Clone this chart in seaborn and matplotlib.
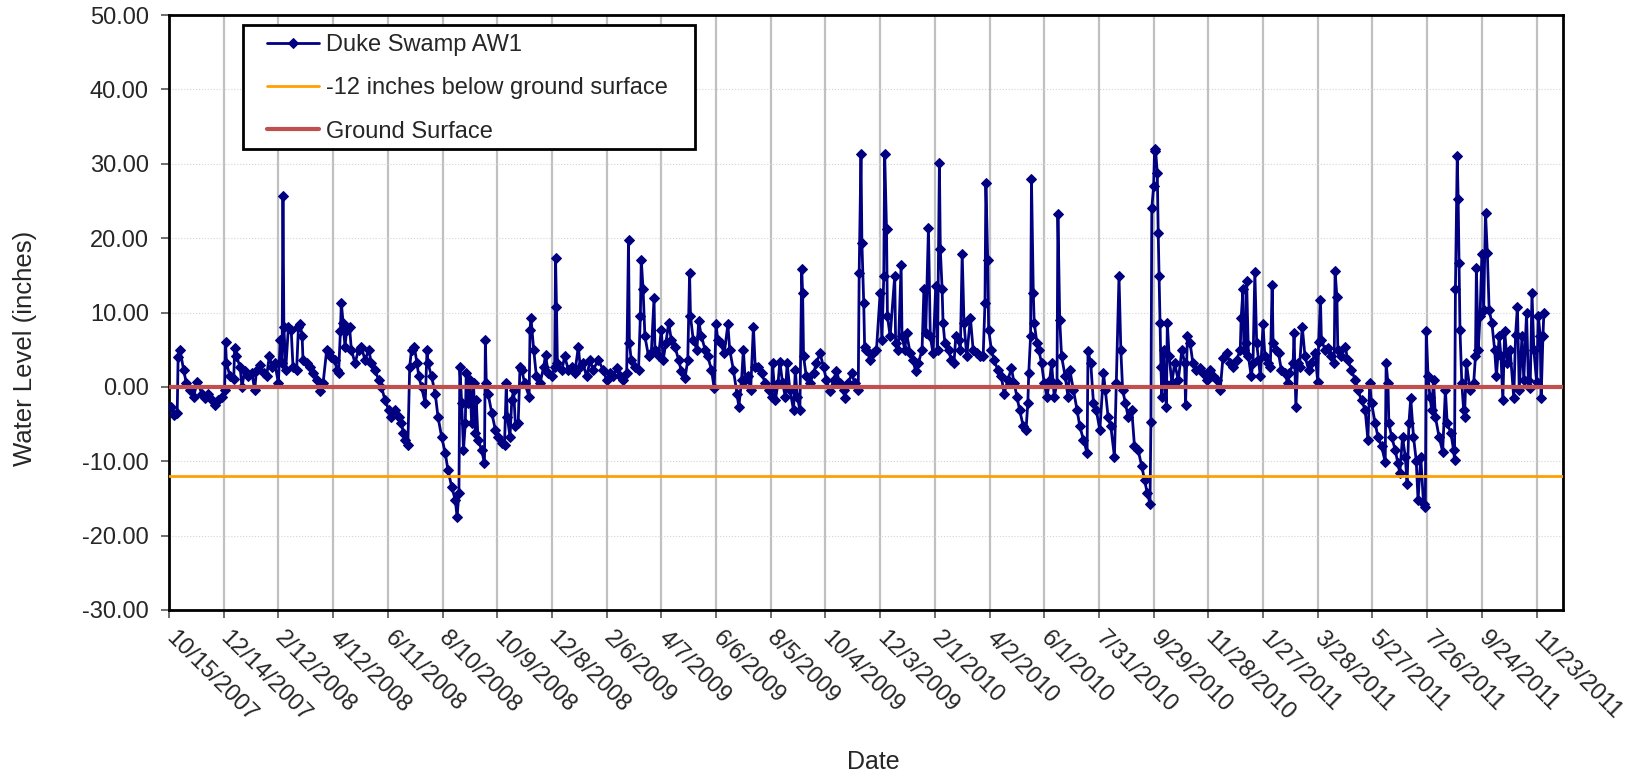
import matplotlib
matplotlib.use('Agg')
import matplotlib.pyplot as plt
from matplotlib.patches import Rectangle
import numpy as np
import pandas as pd
import seaborn as sns

# --- data (days after 10/15/2007, inches) ---
start_date = '2007-10-15'
day_offset = [
    2, 6, 9, 10, 12, 16, 19, 23, 27, 31, 36, 40, 43, 47, 50, 54, 58, 61, 62, 63,
    67, 71, 72, 74, 78, 80, 83, 87, 91, 94, 96, 100, 104, 107, 110, 113, 116, 120, 122, 124,
    125, 126, 128, 131, 134, 136, 140, 142, 144, 146, 147, 151, 155, 158, 162, 166, 169, 173, 175, 178,
    182, 184, 186, 188, 189, 191, 193, 195, 198, 200, 204, 208, 211, 215, 219, 222, 226, 230, 233, 237,
    241, 244, 248, 252, 255, 257, 259, 262, 264, 266, 269, 272, 274, 277, 281, 283, 284, 288, 292, 295,
    299, 303, 306, 310, 314, 316, 318, 319, 321, 323, 325, 326, 328, 330, 332, 334, 336, 337, 339, 343,
    346, 347, 348, 350, 354, 358, 361, 365, 368, 370, 371, 374, 376, 378, 380, 383, 385, 387, 390, 395,
    396, 397, 400, 403, 407, 411, 413, 416, 420, 423, 424, 425, 426, 431, 434, 438, 442, 445, 449, 451,
    454, 458, 462, 465, 471, 476, 480, 484, 487, 491, 495, 498, 502, 504, 505, 507, 511, 515, 517, 518,
    520, 522, 526, 529, 532, 533, 537, 540, 542, 545, 548, 551, 555, 559, 562, 566, 569, 571, 572, 575,
    579, 581, 584, 588, 591, 595, 598, 600, 602, 605, 609, 613, 615, 619, 623, 625, 628, 630, 632, 635,
    638, 641, 643, 646, 650, 654, 658, 661, 662, 665, 668, 670, 673, 676, 678, 681, 685, 687, 689, 692,
    694, 695, 696, 699, 703, 707, 710, 714, 718, 721, 725, 729, 732, 736, 740, 741, 745, 749, 752, 756,
    757, 759, 760, 762, 763, 765, 769, 772, 776, 780, 782, 784, 785, 787, 788, 791, 796, 797, 800, 803,
    804, 807, 809, 813, 816, 819, 822, 826, 828, 830, 833, 835, 838, 841, 843, 845, 846, 848, 849, 851,
    855, 858, 861, 863, 866, 868, 870, 872, 875, 879, 882, 886, 890, 893, 895, 896, 898, 899, 902, 905,
    909, 913, 916, 920, 924, 927, 930, 933, 937, 940, 942, 943, 945, 946, 948, 949, 952, 954, 957, 960,
    963, 966, 968, 971, 974, 975, 977, 979, 983, 986, 988, 992, 996, 999, 1003, 1007, 1008, 1011, 1014, 1017,
    1021, 1025, 1027, 1030, 1033, 1037, 1039, 1042, 1044, 1046, 1049, 1052, 1056, 1059, 1063, 1067, 1070, 1073, 1076, 1077,
    1078, 1080, 1081, 1082, 1084, 1085, 1086, 1087, 1088, 1089, 1091, 1092, 1094, 1095, 1097, 1100, 1103, 1107, 1111, 1114,
    1115, 1117, 1120, 1123, 1127, 1131, 1134, 1138, 1142, 1145, 1149, 1153, 1156, 1160, 1164, 1167, 1171, 1175, 1176, 1178,
    1179, 1181, 1182, 1184, 1187, 1189, 1191, 1193, 1195, 1197, 1200, 1202, 1205, 1208, 1210, 1211, 1214, 1217, 1220, 1224,
    1227, 1229, 1233, 1234, 1236, 1238, 1240, 1243, 1246, 1250, 1253, 1257, 1260, 1261, 1263, 1264, 1268, 1271, 1275, 1278,
    1279, 1281, 1282, 1286, 1290, 1293, 1297, 1301, 1304, 1308, 1312, 1315, 1317, 1319, 1323, 1326, 1330, 1334, 1335, 1337,
    1338, 1341, 1345, 1348, 1350, 1353, 1356, 1358, 1360, 1362, 1365, 1368, 1370, 1373, 1376, 1378, 1379, 1381, 1383, 1385,
    1387, 1389, 1393, 1397, 1400, 1402, 1406, 1409, 1410, 1411, 1413, 1414, 1415, 1416, 1418, 1420, 1421, 1423, 1427, 1431,
    1433, 1434, 1436, 1438, 1440, 1442, 1444, 1446, 1448, 1451, 1454, 1456, 1459, 1461, 1463, 1465, 1468, 1471, 1475, 1477,
    1479, 1481, 1484, 1486, 1489, 1491, 1493, 1495, 1497, 1500, 1502, 1504, 1505, 1507, 1508,
]
water_level = [
    -2.7, -3.8, -3.5, 4.0, 5.0, 2.3, 0.5, -0.4, -1.3, 0.7, -0.9, -1.5, -0.9, -1.8, -2.4, -1.8, -1.3, -0.4, 6.0, 3.2,
    1.4, 1.0, 5.2, 4.1, 2.7, 0.0, 2.1, 1.4, 1.8, -0.4, 2.3, 3.0, 1.8, 1.4, 4.1, 2.7, 3.2, 0.5, 6.3, 3.2,
    25.6, 8.1, 2.3, 8.1, 7.7, 2.7, 2.3, 8.1, 8.4, 6.8, 3.6, 3.2, 2.7, 1.8, 0.9, -0.6, 0.5, 5.0, 4.7, 4.0,
    3.6, 2.3, 1.8, 7.5, 11.3, 8.6, 5.4, 7.7, 8.1, 5.0, 3.2, 5.0, 5.4, 3.6, 5.0, 3.2, 2.3, 0.9, 0.0, -1.8,
    -3.1, -4.0, -3.1, -4.0, -4.9, -6.2, -7.1, -7.8, 2.7, 5.0, 5.4, 3.2, 1.4, 0.0, -2.2, 5.0, 3.2, 1.4, -0.9, -4.0,
    -6.7, -8.9, -11.2, -13.4, -15.2, -17.5, -14.3, 2.7, -2.2, -8.5, -4.9, 1.8, -2.2, 0.9, -4.9, 0.5, -6.2, -1.8, -7.1, -8.5,
    -10.3, 6.3, 0.5, -0.9, -3.5, -5.8, -6.7, -7.6, -7.8, 0.5, -4.0, -6.7, -1.8, -0.4, -5.3, -4.9, 2.7, 2.3, 0.5, -1.3,
    7.7, 9.3, 5.0, 1.4, 0.5, 2.7, 4.3, 1.8, 1.4, 2.7, 17.3, 10.8, 3.2, 2.3, 4.1, 2.3, 2.7, 1.8, 5.4, 2.7,
    3.2, 1.4, 3.6, 2.3, 3.6, 2.3, 0.9, 1.8, 1.4, 2.5, 1.4, 0.9, 1.8, 19.7, 5.9, 3.6, 2.7, 2.3, 9.5, 17.1,
    13.1, 6.8, 4.1, 4.5, 11.9, 5.0, 4.1, 7.7, 3.6, 5.9, 8.6, 6.3, 5.4, 3.6, 2.1, 1.2, 3.6, 15.3, 9.5, 6.3,
    5.0, 8.8, 6.8, 5.0, 4.1, 2.3, -0.2, 8.4, 6.3, 5.9, 4.5, 8.4, 5.0, 2.3, -0.9, -2.7, 0.9, 5.0, 0.9, 1.4,
    -0.4, 8.1, 2.7, 2.7, 1.8, 0.5, -0.4, -1.3, 3.2, -1.8, 0.5, 3.4, 0.5, -1.3, 3.2, -0.4, -3.1, 2.3, -1.3, -3.1,
    15.8, 12.6, 4.1, 1.4, 0.5, 1.8, 3.2, 4.5, 2.7, 0.9, -0.6, 0.9, 2.1, 0.5, -0.4, -1.5, 0.5, 1.8, 0.5, -0.4,
    15.3, 31.3, 19.4, 11.3, 5.4, 5.0, 3.6, 4.5, 5.0, 12.6, 6.3, 14.9, 31.3, 21.2, 9.5, 6.8, 14.9, 5.9, 5.0, 16.4,
    6.8, 5.0, 7.2, 4.5, 3.6, 2.1, 3.2, 5.0, 13.1, 7.2, 21.4, 6.8, 4.5, 13.5, 5.0, 30.1, 18.5, 13.1, 8.6, 5.9,
    5.0, 3.6, 3.2, 6.8, 6.3, 5.0, 17.9, 8.6, 4.1, 9.3, 5.0, 4.5, 4.1, 4.1, 11.3, 27.4, 17.1, 7.7, 5.0, 3.6,
    2.3, 1.4, -0.9, 0.9, 2.5, 0.5, -1.3, -3.1, -5.3, -5.8, -2.2, 1.8, 6.8, 28.0, 12.6, 8.6, 5.9, 5.0, 3.2, 0.5,
    -1.3, 0.9, 3.2, -1.3, 0.5, 23.2, 9.0, 4.1, 1.4, -1.3, 2.3, -0.4, -3.1, -5.3, -7.1, -8.9, 4.8, 3.2, -2.2, -3.1,
    -5.8, 1.8, -0.4, -4.0, -5.3, -9.4, 0.5, 14.9, 5.0, -0.4, -2.2, -4.0, -3.1, -8.0, -8.5, -10.7, -12.5, -14.3, -15.7, -4.7,
    24.1, 27.0, 31.7, 32.0, 28.8, 20.7, 14.9, 8.6, 2.7, -1.3, 5.0, 0.5, -2.7, 8.6, 4.1, 0.5, 3.2, 0.9, 5.0, 3.2,
    -2.4, 6.8, 5.9, 3.2, 2.3, 2.5, 1.8, 0.9, 2.3, 1.4, 0.9, -0.4, 3.9, 4.5, 3.2, 2.7, 3.6, 5.0, 9.3, 13.1,
    5.0, 5.9, 14.2, 4.1, 1.4, 3.2, 15.5, 5.9, 3.6, 1.4, 8.4, 4.1, 3.2, 2.7, 13.7, 5.9, 5.0, 4.5, 2.3, 1.8,
    0.5, 1.8, 3.2, 7.2, -2.7, 3.2, 2.7, 8.1, 4.1, 2.3, 3.2, 4.5, 0.7, 6.1, 11.7, 6.3, 5.0, 5.2, 4.1, 3.2,
    15.6, 12.1, 5.0, 4.1, 5.4, 3.6, 2.3, 0.9, -0.4, -1.8, -3.1, -7.1, 0.5, -2.2, -4.9, -6.7, -8.0, -10.1, 3.2, 0.5,
    -4.9, -6.7, -8.5, -10.3, -11.6, -6.7, -9.4, -13.0, -4.9, -1.5, -6.7, -9.9, -15.2, -9.4, -15.7, -16.1, 7.5, 1.4, -1.3, -3.1,
    0.9, -4.0, -6.7, -8.7, -0.4, -4.9, -6.2, -8.5, -9.8, 13.1, 31.1, 25.2, 16.7, 7.7, 0.5, -3.1, -4.0, 3.2, -0.4, 0.5,
    4.1, 16.0, 5.0, 9.5, 17.8, 10.3, 23.4, 18.0, 10.3, 8.6, 5.0, 1.4, 6.8, 4.1, -1.8, 7.5, 3.2, 5.0, -1.5, 7.0,
    10.8, -0.4, 6.8, 0.9, 9.9, 0.9, -0.2, 12.6, 5.0, 0.7, 9.5, 6.8, -1.5, 6.8, 9.9,
]
threshold_level = -12.0
ground_level = 0.0
tick_step_days = 60
n_date_ticks = 26
y_ticks = [-30, -20, -10, 0, 10, 20, 30, 40, 50]

# --- build the frame ---
start = pd.Timestamp(start_date)
df = pd.DataFrame({
    'date': start + pd.to_timedelta(day_offset, unit='D'),
    'level': water_level,
})

sns.set_style('white')
plt.rcParams['font.family'] = ['Liberation Sans', 'DejaVu Sans']

W, H = 1637, 777
fig = plt.figure(figsize=(W / 100, H / 100), dpi=100)
ax = fig.add_axes([169 / W, 1 - 610 / H, (1563 - 169) / W, (610 - 15) / H])
ax.set_axisbelow(True)

sns.lineplot(data=df, x='date', y='level', ax=ax, color='#000080',
             marker='D', markersize=5.5, markeredgecolor='#000080',
             linewidth=2.0, estimator=None, sort=False,
             label='Duke Swamp AW1', zorder=3)
ax.axhline(threshold_level, color='#FFA000', lw=2,
           label='-12 inches below ground surface', zorder=4)
ax.axhline(ground_level, color='#C0504D', lw=3,
           label='Ground Surface', zorder=4)

# --- axes ---
tick_dates = [start + pd.Timedelta(days=tick_step_days * i) for i in range(n_date_ticks)]
ax.set_xlim(start, start + pd.Timedelta(days=1529))
ax.set_ylim(-30, 50)
ax.set_xticks(tick_dates)
ax.set_xticklabels([f'{d.month}/{d.day}/{d.year}' for d in tick_dates],
                   rotation=-45, ha='left', va='center', rotation_mode='anchor',
                   fontsize=17)
ax.set_yticks(y_ticks)
ax.set_yticklabels([f'{v:.2f}' for v in y_ticks], fontsize=17)

ax.xaxis.grid(True, color='#c0c0c0', lw=1.6)
ax.yaxis.grid(True, color='#d4d4d4', lw=0.8, linestyle=':')
ax.tick_params(axis='both', direction='out', length=6, width=1.2,
               color='#555555', bottom=True, left=True)
ax.tick_params(axis='x', pad=12)
ax.tick_params(axis='y', pad=8.5)
for s in ax.spines.values():
    s.set_color('black')
    s.set_linewidth(2)

ax.set_xlabel('Date', fontsize=18)
ax.set_ylabel('Water Level (inches)', fontsize=18.5)
ax.xaxis.set_label_coords(0.505, -0.236)
ax.yaxis.set_label_coords(-0.0947, 0.44)

# legend frame drawn separately so its padding matches the original box
frame = Rectangle((243 / W, 1 - 149 / H), 452 / W, 124 / H,
                  transform=fig.transFigure, facecolor='white',
                  edgecolor='black', lw=2, zorder=5)
ax.add_patch(frame)
leg = ax.legend(loc='upper left', bbox_to_anchor=(267 / W, 1 - 34 / H),
                bbox_transform=fig.transFigure, fontsize=17, frameon=False,
                borderaxespad=0, borderpad=0, handlelength=2.2,
                handletextpad=0.3, labelspacing=0.9)
leg.set_zorder(6)

plt.savefig('out.png', dpi=100)
